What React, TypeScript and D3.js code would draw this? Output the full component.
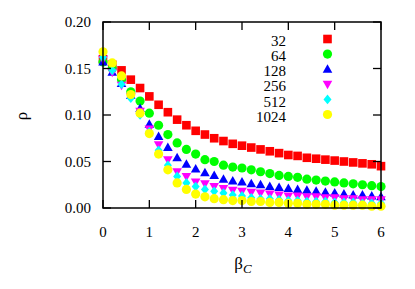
import React from 'react';
import * as d3 from 'd3';

const betas = d3.range(31).map(i => +(i * 0.2).toFixed(1));

const rho32 = [0.160, 0.154, 0.148, 0.138, 0.129, 0.120, 0.111, 0.103, 0.095, 0.089, 0.083, 0.079, 0.075, 0.072, 0.069, 0.067, 0.065, 0.063, 0.061, 0.059, 0.057, 0.056, 0.054, 0.053, 0.052, 0.051, 0.050, 0.049, 0.048, 0.047, 0.045];
const rho64 = [0.157, 0.150, 0.138, 0.125, 0.115, 0.102, 0.089, 0.079, 0.070, 0.063, 0.058, 0.052, 0.050, 0.046, 0.044, 0.043, 0.041, 0.039, 0.037, 0.035, 0.034, 0.033, 0.031, 0.030, 0.029, 0.028, 0.027, 0.026, 0.025, 0.024, 0.023];
const rho128 = [0.157, 0.146, 0.134, 0.121, 0.107, 0.090, 0.077, 0.065, 0.054, 0.047, 0.042, 0.038, 0.035, 0.031, 0.029, 0.028, 0.026, 0.025, 0.023, 0.022, 0.021, 0.020, 0.019, 0.018, 0.017, 0.016, 0.015, 0.014, 0.014, 0.013, 0.012];
const rho256 = [0.160, 0.146, 0.132, 0.120, 0.104, 0.085, 0.068, 0.052, 0.039, 0.034, 0.028, 0.026, 0.023, 0.021, 0.019, 0.018, 0.017, 0.016, 0.015, 0.014, 0.013, 0.013, 0.012, 0.012, 0.011, 0.011, 0.010, 0.010, 0.009, 0.009, 0.009];
const rho512 = [0.162, 0.148, 0.133, 0.118, 0.100, 0.082, 0.062, 0.046, 0.034, 0.027, 0.023, 0.020, 0.018, 0.016, 0.014, 0.013, 0.011, 0.010, 0.010, 0.009, 0.008, 0.008, 0.007, 0.007, 0.007, 0.006, 0.006, 0.006, 0.005, 0.005, 0.005];
const rho1024 = [0.168, 0.156, 0.142, 0.122, 0.102, 0.080, 0.058, 0.041, 0.027, 0.020, 0.015, 0.012, 0.010, 0.009, 0.008, 0.008, 0.007, 0.007, 0.006, 0.006, 0.005, 0.005, 0.004, 0.004, 0.004, 0.003, 0.003, 0.003, 0.003, 0.002, 0.002];

const sizes = ['32', '64', '128', '256', '512', '1024'];
const colors = ['#ff0000', '#00ff00', '#0000ff', '#ff00ff', '#00ffff', '#ffff00'];
const shapes = ['square', 'circle', 'triUp', 'triDown', 'diamond', 'circle'];
const series = [rho32, rho64, rho128, rho256, rho512, rho1024];

const xTicks = [0, 1, 2, 3, 4, 5, 6];
const yTicks = [0, 0.05, 0.1, 0.15, 0.2];

const W = 415, H = 289;
const left = 103, right = 381, top = 22, bottom = 208;
const font = 'Liberation Serif';

const Marker = ({ shape, cx, cy, fill }: { shape: string; cx: number; cy: number; fill: string }) => {
  if (shape === 'square') return <rect x={cx - 4.3} y={cy - 4.3} width={8.6} height={8.6} fill={fill} />;
  if (shape === 'circle') return <circle cx={cx} cy={cy} r={4.6} fill={fill} />;
  if (shape === 'triUp') return <path d={`M${cx},${cy - 5} L${cx + 4.8},${cy + 3.5} L${cx - 4.8},${cy + 3.5}Z`} fill={fill} />;
  if (shape === 'triDown') return <path d={`M${cx},${cy + 5} L${cx + 4.8},${cy - 3.5} L${cx - 4.8},${cy - 3.5}Z`} fill={fill} />;
  return <path d={`M${cx},${cy - 4.8} L${cx + 4},${cy} L${cx},${cy + 4.8} L${cx - 4},${cy}Z`} fill={fill} />;
};

export default function App() {
  const x = d3.scaleLinear().domain([0, 6]).range([left, right]);
  const y = d3.scaleLinear().domain([0, 0.2]).range([bottom, top]);
  const tick = 8;

  return (
    <svg width={W} height={H} fontFamily={font} style={{ position: 'absolute', left: 0, top: 0, background: '#fff' }}>
      <defs>
        <clipPath id="clip">
          <rect x={left - 6} y={top} width={right - left + 12} height={bottom - top + 6} />
        </clipPath>
      </defs>
      {/* data */}
      <g clipPath="url(#clip)">
        {series.map((vals, s) => (
          <g key={sizes[s]}>
            {vals.map((v, i) => (
              <Marker key={i} shape={shapes[s]} cx={x(betas[i])} cy={y(v)} fill={colors[s]} />
            ))}
          </g>
        ))}
      </g>

      {/* frame and ticks */}
      <rect x={left} y={top} width={right - left} height={bottom - top} fill="none" stroke="#000" strokeWidth={1.5} />
      {xTicks.map(t => (
        <g key={t}>
          <line x1={x(t)} x2={x(t)} y1={bottom} y2={bottom - tick} stroke="#000" strokeWidth={1.3} />
          <line x1={x(t)} x2={x(t)} y1={top} y2={top + tick} stroke="#000" strokeWidth={1.3} />
          <text x={x(t)} y={237} textAnchor="middle" fontSize={15}>{t}</text>
        </g>
      ))}
      {yTicks.map(t => (
        <g key={t}>
          <line x1={left} x2={left + tick} y1={y(t)} y2={y(t)} stroke="#000" strokeWidth={1.3} />
          <line x1={right} x2={right - tick} y1={y(t)} y2={y(t)} stroke="#000" strokeWidth={1.3} />
          <text x={91} y={y(t) + 5} textAnchor="end" fontSize={15}>{t.toFixed(2)}</text>
        </g>
      ))}

      {/* axis labels */}
      <text x={243} y={269} textAnchor="middle" fontSize={17}>
        β<tspan fontStyle="italic" fontSize={13} dy={4}>C</tspan>
      </text>
      <text transform="translate(27,116) rotate(-90)" textAnchor="middle" fontSize={17}>ρ</text>

      {/* legend */}
      {sizes.map((s, i) => (
        <g key={s}>
          <text x={286} y={45.5 + i * 15.3} textAnchor="end" fontSize={15}>{s}</text>
          <Marker shape={shapes[i]} cx={327.5} cy={39 + i * 15.1} fill={colors[i]} />
        </g>
      ))}
    </svg>
  );
}
